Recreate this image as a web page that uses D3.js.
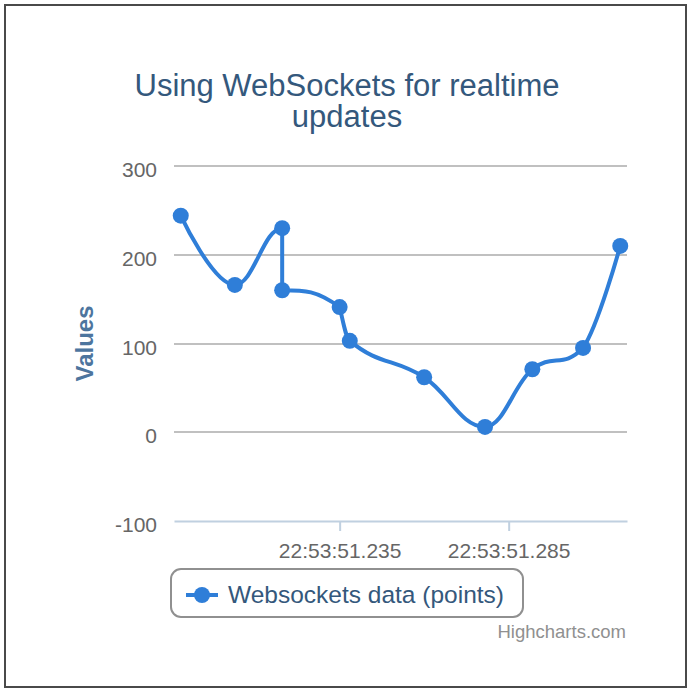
<!DOCTYPE html>
<html>
<head>
<meta charset="utf-8">
<script src="https://cdnjs.cloudflare.com/ajax/libs/d3/7.8.5/d3.min.js"></script>
<style>
  html, body { margin: 0; padding: 0; background: #fff; }
  svg { display: block; font-family: "Liberation Sans", Arial, sans-serif; }
</style>
</head>
<body>
<svg id="chart" width="690" height="688"></svg>
<script>
// ---- data ----
const titleLines = ["Using WebSockets for realtime", "updates"];
const seriesName = "Websockets data (points)";
const yAxisTitle = "Values";
const creditText = "Highcharts.com";
// milliseconds after 22:53:51
const timesMs = [188, 204, 218, 218, 235, 238, 260, 278, 292, 307, 318];
const values  = [244, 166, 230, 160, 141, 103, 62, 6, 71, 95, 210];
const yTicks = [-100, 0, 100, 200, 300];
const xTickMs = [235, 285];

const base = (ms) => new Date(2013, 0, 1, 22, 53, 51, ms);
const data = timesMs.map((t, i) => ({ t: base(t), v: values[i] }));

const svg = d3.select("#chart");
const color = "#2f7ed8";

// border
svg.append("rect").attr("x", 5).attr("y", 5).attr("width", 681).attr("height", 682)
  .attr("fill", "#fff").attr("stroke", "#4a4a4a").attr("stroke-width", 2);

const plot = { left: 174, right: 627, top: 166, bottom: 521 };
const x = d3.scaleTime().domain([base(186.8), base(320)]).range([plot.left, plot.right]);
const y = d3.scaleLinear().domain([-100, 300]).range([plot.bottom, plot.top]);

// title
const title = svg.append("text").attr("text-anchor", "middle").attr("fill", "#34587c")
  .style("font-size", "31px");
titleLines.forEach((l, i) => title.append("tspan").attr("x", 347).attr("y", 96 + i * 31).text(l));

// grid lines
svg.append("g").selectAll("line").data(yTicks.filter(d => d !== -100)).join("line")
  .attr("x1", plot.left).attr("x2", plot.right)
  .attr("y1", d => Math.round(y(d))).attr("y2", d => Math.round(y(d)))
  .attr("stroke", "#c0c0c0").attr("stroke-width", 2);

// y labels
svg.append("g").selectAll("text").data(yTicks).join("text")
  .attr("x", 157).attr("y", d => y(d) + 11).attr("text-anchor", "end")
  .attr("fill", "#666").style("font-size", "21px").text(d => d);

// y axis title
svg.append("text").attr("transform", `translate(93,${(plot.top + plot.bottom) / 2}) rotate(-90)`)
  .attr("text-anchor", "middle").attr("fill", "#4d759e").style("font-size", "24px")
  .style("font-weight", "bold").text(yAxisTitle);

// x axis
const xAxis = d3.axisBottom(x)
  .tickValues(xTickMs.map(base))
  .tickFormat(d3.timeFormat("%H:%M:%S.%L"))
  .tickSize(10).tickSizeOuter(0).tickPadding(7);
const gx = svg.append("g").attr("transform", `translate(0,${plot.bottom})`).call(xAxis);
gx.select(".domain").attr("stroke", "#c0d0e0").attr("stroke-width", 2);
gx.selectAll(".tick line").attr("stroke", "#c0d0e0").attr("stroke-width", 2);
gx.selectAll(".tick text").attr("fill", "#666").style("font-size", "21px")
  .style("font-family", "'Liberation Sans', Arial, sans-serif").attr("dy", "0.95em");

// Highcharts-like spline
function splinePath(pts) {
  const p = d3.path();
  const smoothing = 1.5, denom = smoothing + 1;
  const rc = [];
  pts.forEach((pt, i) => {
    const [px, py] = pt;
    let lcx, lcy, rcx, rcy;
    if (i && i < pts.length - 1) {
      const [lx, ly] = pts[i - 1], [nx, ny] = pts[i + 1];
      lcx = (smoothing * px + lx) / denom; lcy = (smoothing * py + ly) / denom;
      rcx = (smoothing * px + nx) / denom; rcy = (smoothing * py + ny) / denom;
      let corr = 0;
      if (rcx !== lcx) corr = ((rcy - lcy) * (rcx - px)) / (rcx - lcx) + py - rcy;
      lcy += corr; rcy += corr;
      if (lcy > ly && lcy > py) { lcy = Math.max(ly, py); rcy = 2 * py - lcy; }
      else if (lcy < ly && lcy < py) { lcy = Math.min(ly, py); rcy = 2 * py - lcy; }
      if (rcy > ny && rcy > py) { rcy = Math.max(ny, py); lcy = 2 * py - rcy; }
      else if (rcy < ny && rcy < py) { rcy = Math.min(ny, py); lcy = 2 * py - rcy; }
    }
    if (i === 0) p.moveTo(px, py);
    else {
      const prev = rc[i - 1];
      p.bezierCurveTo(prev ? prev[0] : pts[i - 1][0], prev ? prev[1] : pts[i - 1][1],
        lcx !== undefined ? lcx : px, lcy !== undefined ? lcy : py, px, py);
    }
    rc[i] = rcx !== undefined ? [rcx, rcy] : null;
  });
  return p.toString();
}

const pts = data.map(d => [x(d.t), y(d.v)]);
svg.append("path").attr("d", splinePath(pts)).attr("fill", "none")
  .attr("stroke", color).attr("stroke-width", 4).attr("stroke-linejoin", "round").attr("stroke-linecap", "round");

svg.append("g").selectAll("circle").data(data).join("circle")
  .attr("cx", d => x(d.t)).attr("cy", d => y(d.v)).attr("r", 8).attr("fill", color);

// legend
const lg = svg.append("g");
lg.append("rect").attr("x", 171).attr("y", 569).attr("width", 352).attr("height", 48)
  .attr("rx", 10).attr("fill", "#fff").attr("stroke", "#909090").attr("stroke-width", 2);
lg.append("line").attr("x1", 186).attr("x2", 218).attr("y1", 595).attr("y2", 595)
  .attr("stroke", color).attr("stroke-width", 4);
lg.append("circle").attr("cx", 202).attr("cy", 595).attr("r", 8).attr("fill", color);
lg.append("text").attr("x", 228).attr("y", 603).attr("fill", "#34587c")
  .style("font-size", "24.5px").text(seriesName);

// credits
svg.append("text").attr("x", 626).attr("y", 638).attr("text-anchor", "end")
  .attr("fill", "#909090").style("font-size", "18.5px").text(creditText);
</script>
</body>
</html>
